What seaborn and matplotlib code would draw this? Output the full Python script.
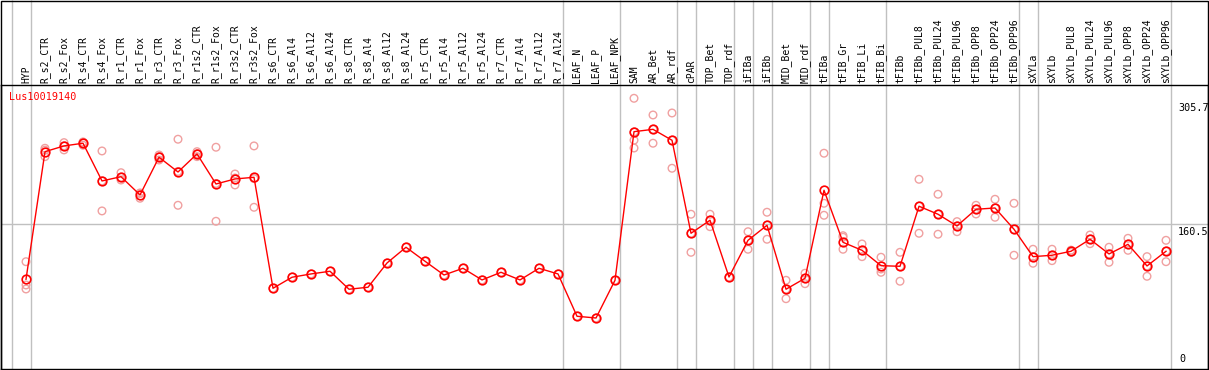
import numpy as np
import pandas as pd
import matplotlib
matplotlib.use("Agg")
import matplotlib.pyplot as plt
import matplotlib.transforms as mtransforms
from matplotlib.patches import Rectangle
import seaborn as sns

# %%
# sample names, tissue group of each sample
samples = ["HYP",
           "R_s2_CTR", "R_s2_Fox", "R_s4_CTR", "R_s4_Fox", "R_r1_CTR", "R_r1_Fox",
           "R_r3_CTR", "R_r3_Fox", "R_r1s2_CTR", "R_r1s2_Fox", "R_r3s2_CTR", "R_r3s2_Fox",
           "R_s6_CTR", "R_s6_Al4", "R_s6_Al12", "R_s6_Al24", "R_s8_CTR", "R_s8_Al4",
           "R_s8_Al12", "R_s8_Al24", "R_r5_CTR", "R_r5_Al4", "R_r5_Al12", "R_r5_Al24",
           "R_r7_CTR", "R_r7_Al4", "R_r7_Al12", "R_r7_Al24",
           "LEAF_N", "LEAF_P", "LEAF_NPK",
           "SAM", "AR_Bet", "AR_rdf",
           "cPAR",
           "TOP_Bet", "TOP_rdf",
           "iFIBa",
           "iFIBb",
           "MID_Bet", "MID_rdf",
           "tFIBa",
           "tFIB_Gr", "tFIB_Li", "tFIB_Bi",
           "tFIBb", "tFIBb_PUL8", "tFIBb_PUL24", "tFIBb_PUL96", "tFIBb_OPP8",
           "tFIBb_OPP24", "tFIBb_OPP96",
           "sXYLa",
           "sXYLb", "sXYLb_PUL8", "sXYLb_PUL24", "sXYLb_PUL96", "sXYLb_OPP8",
           "sXYLb_OPP24", "sXYLb_OPP96"]

group_sizes = [1, 28, 3, 3, 1, 2, 1, 1, 2, 1, 3, 7, 1, 7]

mean_vals = [97.5,
             244.3, 250.9, 254.0, 210.6, 215.5, 194.5, 237.9, 220.9, 241.7, 207.1, 212.9, 214.8,
             87.1, 99.8, 103.6, 106.7, 86.0, 88.3, 116.2, 134.3, 118.2, 102.4, 110.1, 96.7,
             105.5, 96.7, 110.1, 103.6,
             54.9, 52.9, 96.3,
             267.3, 270.0, 257.4,
             150.4,
             165.4, 100.1,
             142.3,
             159.6,
             86.0, 98.6,
             199.9,
             140.0, 130.8, 113.1,
             112.4, 181.5, 172.3, 158.8, 178.0, 179.5, 155.0,
             123.5,
             125.1, 129.7, 143.5, 126.6, 137.7, 112.8, 129.7]

rep_vals = [[117.7, 90.9, 86.3],
            [248.2, 238.6, 246.0], [254.7, 246.3, 251.0], [255.5, 251.7, 254.5],
            [245.1, 176.1, 210.6], [220.1, 211.7, 214.7], [190.7, 196.8, 196.0],
            [240.5, 234.7, 238.5], [258.6, 182.6, 221.5], [244.3, 238.6, 242.0],
            [249.4, 164.2, 207.7], [218.6, 206.0, 214.0], [250.9, 180.3, 213.3],
            [87.1], [99.8], [103.6], [106.7], [86.0], [88.3], [116.2], [134.3],
            [118.2], [102.4], [110.1], [96.7], [105.5], [96.7], [110.1], [103.6],
            [54.9], [52.9], [96.3],
            [305.7, 267.0, 257.5, 248.5], [286.5, 254.0, 270.0], [288.8, 225.2, 257.4],
            [172.3, 128.5, 150.4],
            [172.3, 158.0, 165.4], [100.1],
            [152.2, 132.0, 142.3],
            [174.6, 143.5, 159.6],
            [96.3, 75.1, 86.0], [104.4, 92.4, 98.6],
            [242.5, 184.9, 171.1],
            [147.6, 145.8, 132.0], [138.1, 123.5, 130.8], [122.8, 105.5, 109.3],
            [128.5, 95.2, 112.4], [212.5, 150.4, 181.5], [195.3, 149.3, 172.3],
            [163.8, 152.2, 158.8], [182.6, 172.6, 178.0], [189.5, 168.8, 179.5],
            [184.9, 125.1, 155.0],
            [132.0, 115.9, 123.5],
            [132.0, 118.9, 125.1], [131.0, 128.5, 129.7], [148.4, 138.4, 143.5],
            [134.3, 117.0, 126.6], [144.6, 130.8, 137.7], [123.5, 100.9, 112.8],
            [142.3, 117.7, 129.7]]

gene = "Lus10019140"
y_max = 305.7
y_mid = 160.5

# %%
means = pd.DataFrame({"idx": np.arange(len(samples)), "value": mean_vals})
reps = pd.DataFrame([(i, v) for i, vals in enumerate(rep_vals) for v in vals],
                    columns=["idx", "value"])

W, H, DPI = 1209, 370, 100
fig = plt.figure(figsize=(W / DPI, H / DPI), dpi=DPI)
ax = fig.add_axes([1 / W, 1.5 / H, 1207 / W, 283.5 / H])

mono = "DejaVu Sans Mono"
grid_c = "#c0c0c0"

# group separators run through the label strip as well
ends = np.cumsum(group_sizes) - 1
seps = np.concatenate([[-1], ends]) + 0.25
ax.vlines(seps, 0, 1 + 85 / 283.5, transform=ax.get_xaxis_transform(),
          color=grid_c, lw=1, clip_on=False, zorder=0)
ax.axhline(y_mid, color=grid_c, lw=1, zorder=0)

sns.scatterplot(data=reps, x="idx", y="value", ax=ax, marker="o", s=30,
                facecolors="none", edgecolors="#f0a0a0", linewidths=1.0,
                legend=False, zorder=2)
sns.lineplot(data=means, x="idx", y="value", ax=ax, color="red", lw=1,
             marker="o", markersize=6.2, markerfacecolor="none",
             markeredgecolor="red", markeredgewidth=1.2, zorder=3)

ax.set_xlim(-1.316, 62.21)
ax.set_ylim(-5.2, 321)
ax.set_xticks([])
ax.set_yticks([])
ax.set_xlabel("")
ax.set_ylabel("")
for s in ax.spines.values():
    s.set_color("black")
    s.set_linewidth(1)

# sample labels above the plot
for i, name in enumerate(samples):
    ax.text(i, 1 + 2 / 283.5, name, rotation=90, ha="center", va="bottom",
            transform=ax.get_xaxis_transform(), family=mono, fontsize=7)

ax.text(8 / 1207, 1 - 12 / 283.5, gene, transform=ax.transAxes, color="red",
        family=mono, fontsize=7.3, va="center", ha="left")

# value labels on the right
lab_tr = mtransforms.blended_transform_factory(ax.transAxes, ax.transData)
xl = 1177 / 1207
ax.annotate(f"{y_max}", xy=(xl, y_max), xycoords=lab_tr, xytext=(0, -5),
            textcoords="offset pixels", va="top", ha="left", family=mono, fontsize=7.3)
ax.annotate(f"{y_mid}", xy=(xl, y_mid), xycoords=lab_tr, xytext=(0, -3),
            textcoords="offset pixels", va="top", ha="left", family=mono, fontsize=7.3)
ax.annotate("0", xy=(xl, 0), xycoords=lab_tr, xytext=(1, 0),
            textcoords="offset pixels", va="bottom", ha="left", family=mono, fontsize=7.3)

fig.add_artist(Rectangle((0.5 / W, 0.5 / H), 1 - 1.5 / W, 1 - 1.5 / H,
                         transform=fig.transFigure, fill=False, ec="black", lw=1))

fig.savefig("out.png", dpi=DPI)
